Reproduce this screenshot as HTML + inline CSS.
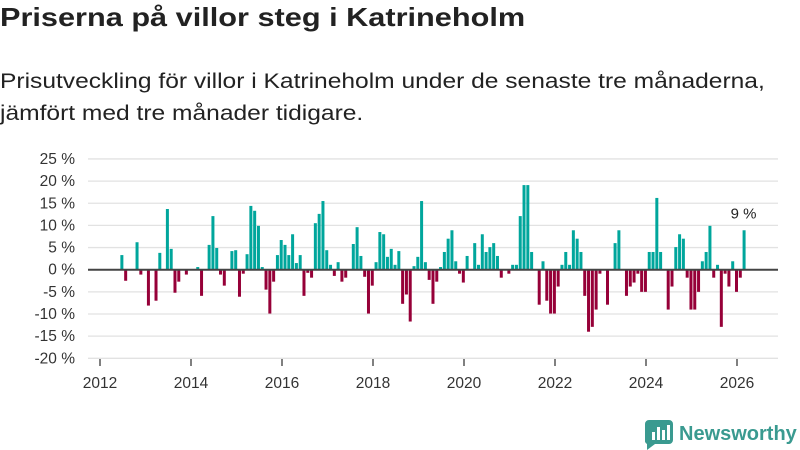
<!DOCTYPE html>
<html><head><meta charset="utf-8"><style>
body{margin:0;width:800px;height:450px;background:#fff;font-family:"Liberation Sans",sans-serif;overflow:hidden;position:relative}
h1{position:absolute;left:0;top:2px;margin:0;font-size:26px;font-weight:bold;color:#222;white-space:nowrap;transform:scaleX(1.18);transform-origin:0 0}
p.sub{position:absolute;left:0;top:66px;margin:0;font-size:21px;line-height:32px;color:#222;white-space:nowrap;transform:scaleX(1.17);transform-origin:0 0}
</style></head><body>
<h1>Priserna på villor steg i Katrineholm</h1>
<p class="sub">Prisutveckling för villor i Katrineholm under de senaste tre månaderna,<br>jämfört med tre månader tidigare.</p>
<svg id="chart" width="800" height="450" style="position:absolute;left:0;top:0" xmlns="http://www.w3.org/2000/svg"></svg>
<script>
const startMonth = 5; // June 2012 (months since Jan 2012)
const values = [3.3,-2.5,null,null,6.2,-1.1,null,-8.1,null,-7.0,3.8,null,13.7,4.7,-5.2,-2.7,null,-1.1,null,null,
0.6,-5.9,null,5.6,12.1,4.9,-1.1,-3.6,null,4.2,4.4,-6.1,-0.9,3.5,14.4,13.3,9.9,0.6,-4.5,-9.9,
-2.7,3.3,6.7,5.6,3.3,8.0,1.5,3.3,-5.9,-0.7,-1.8,10.5,12.6,15.5,4.4,1.1,-1.4,1.7,-2.7,-1.8,
null,5.8,9.6,3.1,-1.6,-9.9,-3.6,1.7,8.5,8.0,2.9,4.7,1.1,4.2,-7.7,-5.6,-11.7,0.8,2.9,15.5,
1.7,-2.3,-7.7,-2.7,0.6,4.0,7.0,8.9,1.9,-0.9,-2.9,3.1,null,6.0,1.1,8.0,4.0,5.1,6.0,3.1,
-1.8,null,-0.9,1.1,1.1,12.1,19.1,19.1,4.0,null,-7.9,1.9,-7.0,-9.9,-9.9,-3.8,1.1,4.0,1.1,8.9,
7.0,4.0,-5.9,-14.0,-12.9,-9.0,-0.9,null,-7.9,null,6.0,8.9,null,-5.9,-3.8,-2.9,-0.9,-5.0,-5.0,4.0,
4.0,16.2,4.0,null,-9.0,-3.8,5.1,8.0,7.0,-1.8,-9.0,-9.0,-5.0,1.9,4.0,9.9,-1.8,1.1,-12.9,-0.9,
-3.8,1.9,-5.0,-1.8,8.9];
const yTicks = [-20,-15,-10,-5,0,5,10,15,20,25];
const xTickYears = [2012,2014,2016,2018,2020,2022,2024,2026];
const lastLabel = "9 %";

const svg = document.getElementById('chart');
const NS = "http://www.w3.org/2000/svg";
const yScale = v => 269.7 - v * 4.43;
const xMonth = m => 101.4 + m * 3.794;
const xYear = y => 100 + (y - 2012) * 45.5;
function mk(tag, attrs){const e=document.createElementNS(NS,tag);for(const k in attrs)e.setAttribute(k,attrs[k]);svg.appendChild(e);return e;}

yTicks.forEach(t=>{
  const g = mk('line',{x1:88,x2:778,y1:yScale(t),y2:yScale(t),stroke:'#e2e2e2','stroke-width':1.3});
  
  
  const l = mk('text',{x:75,y:yScale(t)+5,'text-anchor':'end','font-size':15.5,fill:'#333'});
  l.textContent = t + ' %';
  
  
});
xTickYears.forEach(y=>{
  const t = mk('line',{x1:xYear(y),x2:xYear(y),y1:359,y2:366,stroke:'#555','stroke-width':1.5});
  
  
  const l = mk('text',{x:xYear(y),y:388,'text-anchor':'middle','font-size':15.5,fill:'#333'});
  l.textContent = y;
  
  
});
values.forEach((v,i)=>{
  if(v===null) return;
  const m = startMonth + i;
  const y0 = yScale(0), y1 = yScale(v);
  const b = mk('rect',{x:xMonth(m),width:3,y:Math.min(y0,y1),height:Math.abs(y1-y0),fill:v>=0?'#00a69c':'#960038'});
  
  
});
const z = mk('line',{x1:88,x2:778,y1:yScale(0),y2:yScale(0),stroke:'#444','stroke-width':2});


const lastIdx = values.length-1;
const ann = mk('text',{x:xMonth(startMonth+lastIdx)+1,y:yScale(values[lastIdx])-12,'text-anchor':'middle','font-size':15,fill:'#222'});
ann.textContent = lastLabel;


</script>
<svg width="160" height="34" style="position:absolute;left:643px;top:416px" xmlns="http://www.w3.org/2000/svg">
  <path d="M6 4 h20 a4 4 0 0 1 4 4 v16 a4 4 0 0 1 -4 4 h-14 l-8 6 v-6 a4 4 0 0 1 -2 -4 v-16 a4 4 0 0 1 4 -4z" fill="#3a9a90"/>
  <rect x="9" y="16" width="3" height="8" fill="#fff"/><rect x="14" y="11" width="3" height="13" fill="#fff"/><rect x="19" y="14" width="3" height="10" fill="#fff"/><rect x="24" y="9" width="3" height="15" fill="#fff"/>
  <text x="36" y="24" font-size="20" font-weight="bold" fill="#3a9a90" font-family="Liberation Sans, sans-serif">Newsworthy</text>
</svg>
</body></html>
